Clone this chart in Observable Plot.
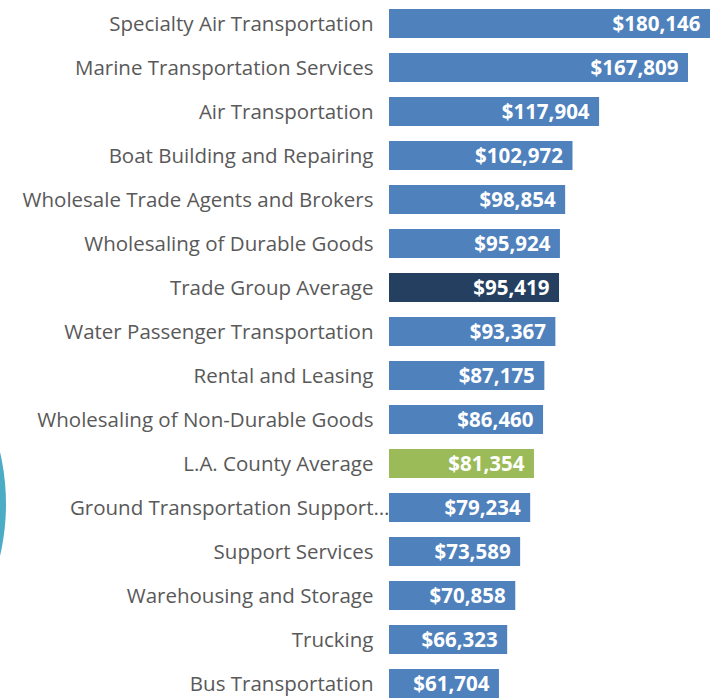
<!DOCTYPE html>
<html>
<head>
<meta charset="utf-8">
<script src="https://cdn.jsdelivr.net/npm/d3@7"></script>
<script src="https://cdn.jsdelivr.net/npm/@observablehq/plot@0.6"></script>
<style>
  html, body { margin: 0; padding: 0; background: #fff; overflow: hidden; }
  #wrap { position: relative; width: 721px; height: 700px; overflow: hidden; }
  #arc { position: absolute; left: -450px; top: 276px; width: 456px; height: 456px; border-radius: 50%; background: #4BACC6; }
  #chart { position: absolute; left: 0; top: 0; }
</style>
</head>
<body>
<div id="wrap"><div id="arc"></div><div id="chart"></div></div>
<script>
const categories = [
  "Specialty Air Transportation",
  "Marine Transportation Services",
  "Air Transportation",
  "Boat Building and Repairing",
  "Wholesale Trade Agents and Brokers",
  "Wholesaling of Durable Goods",
  "Trade Group Average",
  "Water Passenger Transportation",
  "Rental and Leasing",
  "Wholesaling of Non-Durable Goods",
  "L.A. County Average",
  "Ground Transportation Support…",
  "Support Services",
  "Warehousing and Storage",
  "Trucking",
  "Bus Transportation"
];
const wages = [180146, 167809, 117904, 102972, 98854, 95924, 95419, 93367, 87175, 86460, 81354, 79234, 73589, 70858, 66323, 61704];
const groups = ["industry","industry","industry","industry","industry","industry","trade","industry","industry","industry","county","industry","industry","industry","industry","industry"];
const groupNames = ["industry", "trade", "county"];
const groupColors = ["#4F81BD", "#243F60", "#9BBB59"];
const truncated = ["Ground Transportation Support…"];

const data = categories.map((c, i) => ({category: c, wage: wages[i], group: groups[i]}));
const fmt = d3.format("$,");

const chart = Plot.plot({
  width: 721,
  height: 700,
  marginLeft: 389,
  marginRight: 11,
  marginTop: 0,
  marginBottom: 0,
  style: {fontFamily: "'Open Sans', sans-serif", background: "transparent", overflow: "visible"},
  x: {domain: [0, d3.max(wages)], axis: null},
  y: {domain: categories, range: [-0.6, 707.8], paddingInner: 0.344, paddingOuter: 0.172, label: null},
  color: {domain: groupNames, range: groupColors},
  marks: [
    Plot.barX(data, {y: "category", x: "wage", fill: "group"}),
    Plot.ruleX([0], {stroke: "#D9D9D9", strokeWidth: 2, dx: -1, y1: 0, y2: 700}),
    Plot.text(data, {y: "category", x: "wage", text: d => fmt(d.wage), textAnchor: "end", dx: -10, fill: "white", fontWeight: "bold", fontSize: 20.5}),
    Plot.axisY({ticks: categories.filter(c => !truncated.includes(c)), tickSize: 0, tickPadding: 16, fontSize: 20.5, color: "#595959", label: null}),
    Plot.axisY({ticks: truncated, tickSize: 0, tickPadding: 0, fontSize: 20.5, color: "#595959", label: null})
  ]
});
document.getElementById("chart").appendChild(chart);
</script>
</body>
</html>
